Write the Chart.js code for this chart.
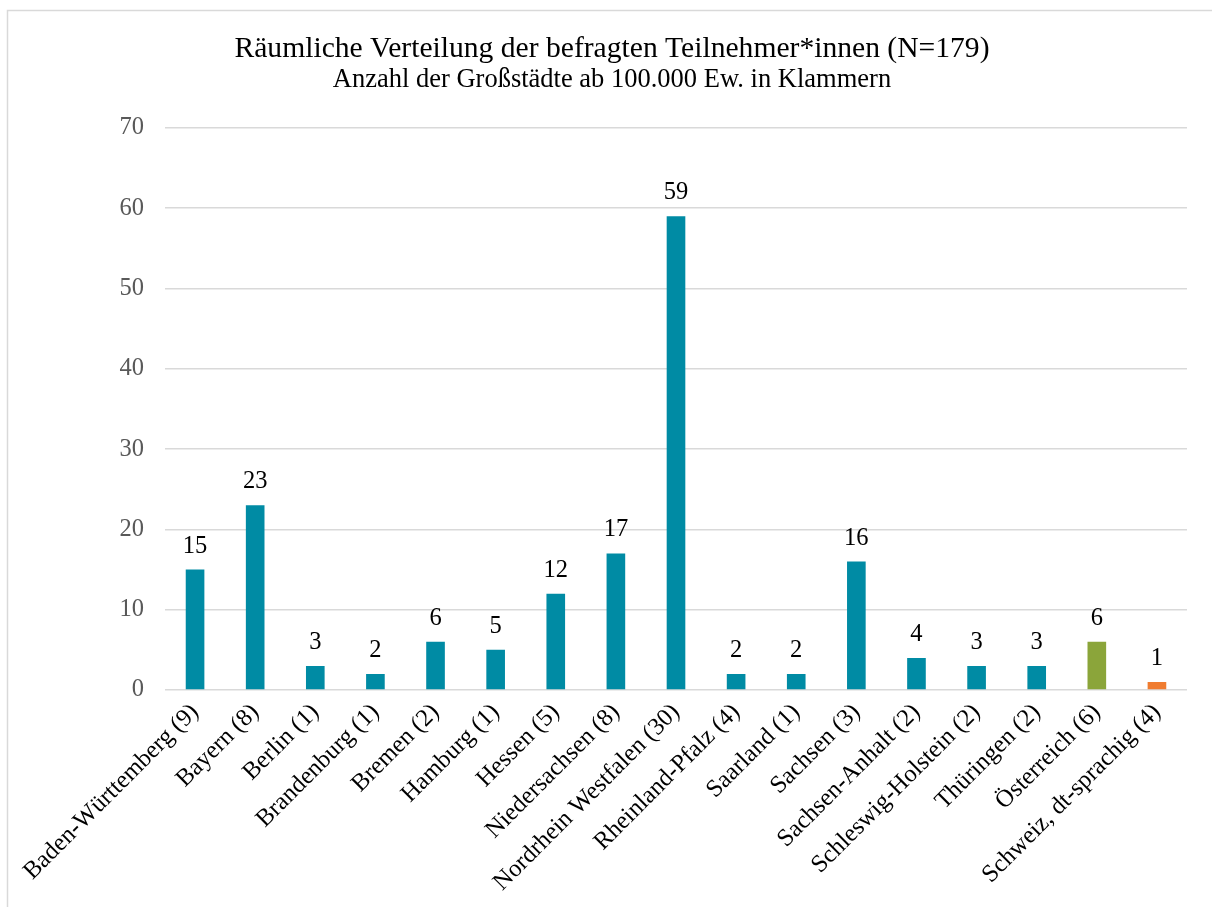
<!DOCTYPE html>
<html>
<head>
<meta charset="utf-8">
<script src="https://cdn.jsdelivr.net/npm/chart.js@4/dist/chart.umd.min.js"></script>
<style>
  html, body { margin: 0; padding: 0; background: #fff; }
  #wrap { position: absolute; left: 0; top: 0; width: 1212px; height: 907px; }
</style>
</head>
<body>
<div id="wrap"><canvas id="c"></canvas></div>
<script>
const categories = [
  "Baden-Württemberg (9)", "Bayern (8)", "Berlin (1)", "Brandenburg (1)", "Bremen (2)",
  "Hamburg (1)", "Hessen (5)", "Niedersachsen (8)", "Nordrhein Westfalen (30)",
  "Rheinland-Pfalz (4)", "Saarland (1)", "Sachsen (3)", "Sachsen-Anhalt (2)",
  "Schleswig-Holstein (2)", "Thüringen (2)", "Österreich (6)", "Schweiz, dt-sprachig (4)"
];
const values = [15, 23, 3, 2, 6, 5, 12, 17, 59, 2, 2, 16, 4, 3, 3, 6, 1];
const barColors = [
  "#008BA4", "#008BA4", "#008BA4", "#008BA4", "#008BA4", "#008BA4", "#008BA4", "#008BA4",
  "#008BA4", "#008BA4", "#008BA4", "#008BA4", "#008BA4", "#008BA4", "#008BA4",
  "#8BA53A", "#F07C30"
];
const titleText = "Räumliche Verteilung der befragten Teilnehmer*innen (N=179)";
const subtitleText = "Anzahl der Großstädte ab 100.000 Ew. in Klammern";

const FONT = "'Liberation Serif', 'Times New Roman', serif";

const frame = {
  id: 'frame',
  beforeDraw(chart) {
    const ctx = chart.ctx;
    ctx.save();
    ctx.fillStyle = '#fff';
    ctx.fillRect(0, 0, chart.width, chart.height);
    ctx.strokeStyle = '#D9D9D9';
    ctx.lineWidth = 1.5;
    ctx.beginPath();
    ctx.moveTo(7.5, chart.height);
    ctx.lineTo(7.5, 10.5);
    ctx.lineTo(chart.width, 10.5);
    ctx.stroke();
    ctx.restore();
  }
};

const valueLabels = {
  id: 'valueLabels',
  afterDatasetsDraw(chart) {
    const ctx = chart.ctx;
    const meta = chart.getDatasetMeta(0);
    ctx.save();
    ctx.font = "24.5px " + FONT;
    ctx.fillStyle = '#000';
    ctx.textAlign = 'center';
    ctx.textBaseline = 'alphabetic';
    meta.data.forEach((bar, i) => {
      ctx.fillText(String(chart.data.datasets[0].data[i]), bar.x, bar.y - 17);
    });
    ctx.restore();
  }
};

new Chart(document.getElementById('c'), {
  type: 'bar',
  data: {
    labels: categories,
    datasets: [{
      data: values,
      backgroundColor: barColors,
      borderWidth: 0,
      categoryPercentage: 1.0,
      barPercentage: 0.31
    }]
  },
  options: {
    responsive: true,
    maintainAspectRatio: false,
    animation: false,
    devicePixelRatio: 1,
    layout: { padding: { left: 37, right: 25, top: 0, bottom: 0 } },
    plugins: {
      legend: { display: false },
      tooltip: { enabled: false },
      title: {
        display: true,
        text: titleText,
        color: '#000',
        font: { family: FONT, size: 29.6, weight: 'normal', lineHeight: 1.2 },
        padding: { top: 31, bottom: 0 }
      },
      subtitle: {
        display: true,
        text: subtitleText,
        color: '#000',
        font: { family: FONT, size: 26.5, weight: 'normal', lineHeight: 1.0 },
        padding: { top: 0, bottom: 34.8 }
      }
    },
    scales: {
      x: {
        grid: { display: false, drawTicks: false },
        border: { display: false },
        ticks: {
          color: '#000',
          font: { family: FONT, size: 24.6 },
          maxRotation: 45,
          minRotation: 45,
          autoSkip: false,
          padding: 8
        },
        afterFit(scale) { scale.height = 217; }
      },
      y: {
        min: 0,
        max: 70,
        ticks: {
          stepSize: 10,
          color: '#595959',
          font: { family: FONT, size: 24.5 },
          padding: 21
        },
        grid: { color: '#D9D9D9', lineWidth: 1.5, drawTicks: false },
        border: { display: false },
        afterFit(scale) { scale.width = 128; }
      }
    }
  },
  plugins: [frame, valueLabels]
});
</script>
</body>
</html>
